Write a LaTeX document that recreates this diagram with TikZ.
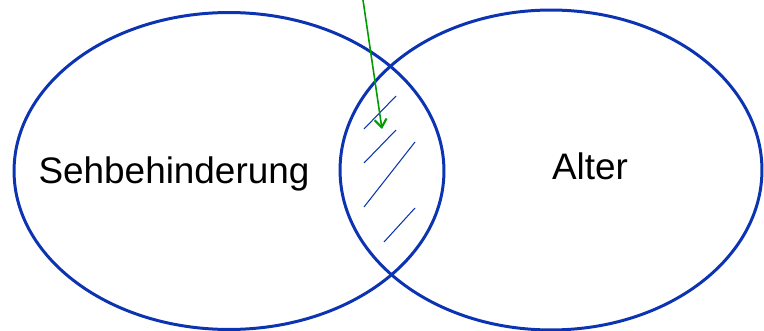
\documentclass[tikz,border=0pt]{standalone}
\usepackage{fontspec}
\setmainfont{Liberation Sans}
\usetikzlibrary{arrows.meta, positioning, shapes.geometric}
\definecolor{vennBlue}{RGB}{12, 52, 178}
\definecolor{vennGreen}{RGB}{0, 155, 0}

\begin{document}
\begin{tikzpicture}[
        x=0.02cm,
        y=-0.02cm,
        setBase/.style={
            ellipse,
            draw=vennBlue,
            line width=1.7pt,
            inner sep=0pt
        },
        setLabel/.style={anchor=base, inner sep=0pt, font=\fontsize{21}{25}\selectfont},
        hatch/.style={vennBlue, line width=0.6pt},
        pointer/.style={vennGreen, line width=0.9pt, -{Straight Barb[length=1.6mm, width=2.4mm, line width=1.2pt]}}
    ]
        \useasboundingbox (0,0) rectangle (764,331);

        % the two sets
        \node[setBase, minimum width=8.6cm, minimum height=6.34cm] (sehb) at (229,171) {};
        \node[setBase, minimum width=8.44cm, minimum height=6.4cm] (alter) at (551,170) {};

        \node[setLabel] (sehbText) at (174,183) {Sehbehinderung};
        \node[setLabel] (alterText) at (590,179) {Alter};

        % hatching of the intersection
        \foreach \xa/\ya/\xb/\yb in {364/129/396/96, 364/163/396/130, 364/207/415/142, 384/242/415/208} {
            \draw[hatch] (\xa,\ya) -- (\xb,\yb);
        }

        % pointer into the intersection
        \coordinate (pointerStart) at (363,0);
        \coordinate (pointerTip) at (382,129);
        \draw[pointer] (pointerStart) -- (pointerTip);
    \end{tikzpicture}
\end{document}
